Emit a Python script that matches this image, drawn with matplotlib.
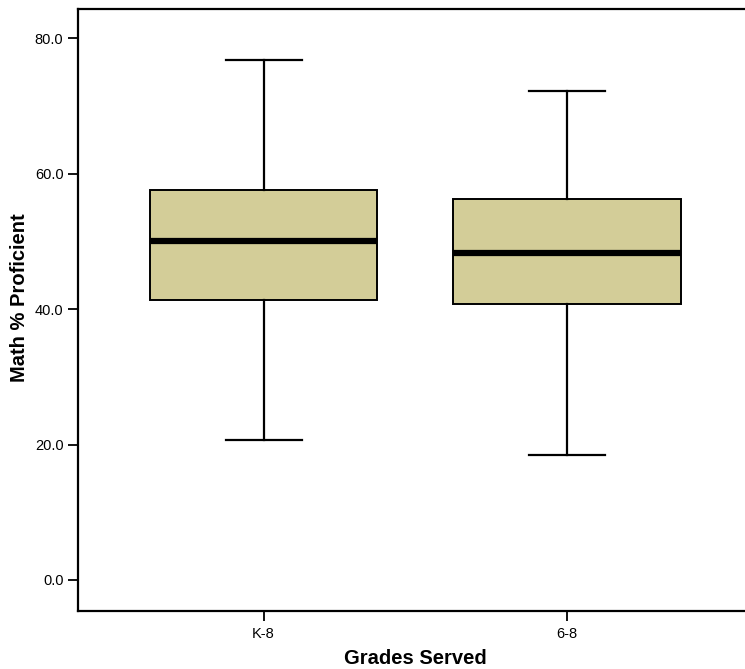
import matplotlib
matplotlib.use("Agg")
import matplotlib.pyplot as plt
from matplotlib.ticker import FormatStrFormatter

plt.rcParams['font.family'] = ['Liberation Sans', 'DejaVu Sans']

categories = ["K-8", "6-8"]
whisker_low = [20.6, 18.4]
q1 = [41.4, 40.8]
median = [50.0, 48.3]
q3 = [57.6, 56.3]
whisker_high = [76.8, 72.2]
yticks = [0.0, 20.0, 40.0, 60.0, 80.0]

stats = []
for i, c in enumerate(categories):
    stats.append(dict(label=c, whislo=whisker_low[i], q1=q1[i], med=median[i],
                      q3=q3[i], whishi=whisker_high[i], fliers=[]))

fig = plt.figure(figsize=(7.45, 6.69), dpi=100)
ax = fig.add_axes([78/745, (669-611)/669, 1 - 78/745 + 0.01, (611-8.7)/669])

fill = "#d3cd98"
ax.bxp(stats, positions=range(len(categories)), widths=0.75, capwidths=0.25,
       patch_artist=True, showfliers=False,
       boxprops=dict(facecolor=fill, edgecolor="black", linewidth=1.4),
       medianprops=dict(color="black", linewidth=4.5, solid_capstyle="butt"),
       whiskerprops=dict(color="black", linewidth=1.6),
       capprops=dict(color="black", linewidth=1.6))

ax.set_xlim(-0.611, 1.61)
ax.set_ylim(-4.6, 84.4)
ax.set_yticks(yticks)
ax.yaxis.set_major_formatter(FormatStrFormatter("%.1f"))
ax.set_xticks(range(len(categories)))
ax.set_xticklabels(categories)

for s in ["left", "top", "bottom"]:
    ax.spines[s].set_linewidth(1.6)
ax.spines["right"].set_visible(False)
ax.tick_params(axis="both", direction="out", length=7, width=1.3, labelsize=10.5)
ax.tick_params(axis="y", pad=3.5)
ax.tick_params(axis="x", pad=4.5)

ax.set_ylabel("Math % Proficient", fontsize=14.5, fontweight="bold")
ax.yaxis.set_label_coords(-0.072, 0.52)
ax.set_xlabel("Grades Served", fontsize=14.5, fontweight="bold", labelpad=6)

fig.savefig("out.png", dpi=100)
